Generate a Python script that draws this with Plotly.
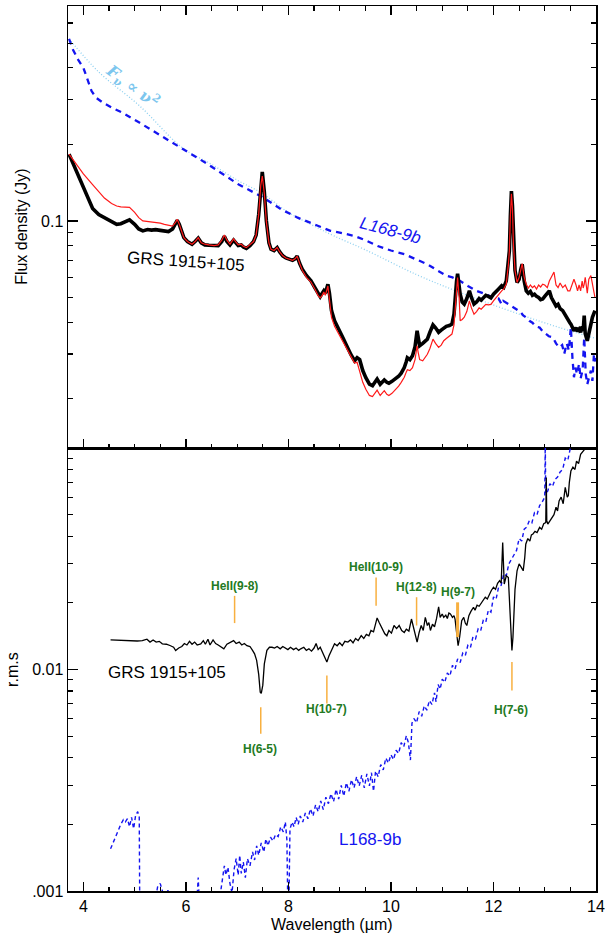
import numpy as np
import plotly.graph_objects as go

# ---------------- data ----------------
# Upper panel: GRS 1915+105 flux (black thick) and second epoch (red thin), common grid
wl_grs = [3.72, 3.85, 4.00, 4.18, 4.30, 4.41, 4.55, 4.65, 4.73, 4.82, 4.90, 5.00, 5.08, 5.16, 5.25, 5.33,
          5.41, 5.50, 5.58, 5.66, 5.74, 5.80, 5.83, 5.87, 5.92, 5.96, 6.03, 6.12, 6.18, 6.24, 6.30, 6.37,
          6.45, 6.55, 6.63, 6.70, 6.75, 6.80, 6.86, 6.93, 6.97, 7.02, 7.08, 7.12, 7.18, 7.25, 7.32, 7.37,
          7.42, 7.46, 7.49, 7.53, 7.57, 7.62, 7.66, 7.72, 7.78, 7.83, 7.89, 7.95, 8.02, 8.08, 8.13, 8.17,
          8.22, 8.27, 8.35, 8.44, 8.52, 8.58, 8.62, 8.66, 8.69, 8.72, 8.77, 8.80, 8.84, 8.90, 8.97, 9.02,
          9.07, 9.12, 9.16, 9.22, 9.29, 9.34, 9.39, 9.45, 9.51, 9.58, 9.64, 9.69, 9.73, 9.79, 9.83, 9.87,
          9.92, 9.96, 10.02, 10.09, 10.15, 10.20, 10.26, 10.30, 10.32, 10.37, 10.42, 10.47, 10.51, 10.53,
          10.56, 10.62, 10.67, 10.71, 10.76, 10.82, 10.87, 10.93, 10.98, 11.03, 11.08, 11.14, 11.19, 11.23,
          11.25, 11.28, 11.30, 11.33, 11.35, 11.39, 11.43, 11.48, 11.53, 11.57, 11.62, 11.67, 11.72, 11.76,
          11.80, 11.85, 11.90, 11.95, 12.00, 12.05, 12.10, 12.16, 12.20, 12.25, 12.29, 12.31, 12.33, 12.35,
          12.37, 12.39, 12.42, 12.46, 12.50, 12.53, 12.56, 12.60, 12.64, 12.68, 12.72, 12.76, 12.80, 12.84,
          12.88, 12.92, 12.96, 13.00, 13.05, 13.09, 13.13, 13.18, 13.22, 13.26, 13.30, 13.35, 13.40, 13.45,
          13.49, 13.51, 13.55, 13.57, 13.61, 13.64, 13.67, 13.70, 13.73, 13.75, 13.77, 13.79, 13.83, 13.86,
          13.90, 13.93, 13.98]

flux_grs_1 = [0.183, 0.160, 0.137, 0.112, 0.106, 0.103, 0.099, 0.097, 0.0975, 0.099, 0.101, 0.097, 0.093,
              0.0914, 0.0925, 0.0920, 0.0924, 0.0918, 0.0915, 0.0908, 0.093, 0.099, 0.1006, 0.097, 0.090,
              0.086, 0.083, 0.081, 0.083, 0.0855, 0.082, 0.0805, 0.0802, 0.0798, 0.080, 0.083, 0.087, 0.083,
              0.0805, 0.084, 0.082, 0.080, 0.0805, 0.079, 0.078, 0.080, 0.083, 0.088, 0.106, 0.140, 0.156,
              0.130, 0.100, 0.082, 0.0774, 0.0765, 0.0786, 0.0755, 0.0729, 0.0715, 0.0708, 0.0700, 0.071,
              0.0727, 0.068, 0.0646, 0.061, 0.0581, 0.0545, 0.0515, 0.0504, 0.052, 0.0531, 0.052, 0.0564,
              0.052, 0.0444, 0.0405, 0.0381, 0.0362, 0.0345, 0.0328, 0.0313, 0.0298, 0.0282, 0.0290, 0.0285,
              0.0258, 0.0242, 0.0228, 0.0225, 0.0232, 0.0239, 0.0228, 0.0233, 0.0237, 0.0232, 0.0230, 0.0234,
              0.0239, 0.0245, 0.0252, 0.0265, 0.0280, 0.0290, 0.0285, 0.0295, 0.0320, 0.0370, 0.0350, 0.0323,
              0.0330, 0.0338, 0.0343, 0.0365, 0.0390, 0.0380, 0.0365, 0.0372, 0.0380, 0.0385, 0.0388, 0.0393,
              0.0430, 0.0500, 0.0580, 0.0620, 0.0560, 0.0515, 0.0480, 0.0471, 0.0495, 0.0531, 0.0500, 0.0471,
              0.0480, 0.0495, 0.0488, 0.0500, 0.0510, 0.0505, 0.0498, 0.0515, 0.0525, 0.0540, 0.0556, 0.0548,
              0.0581, 0.0680, 0.0762, 0.1050, 0.1310, 0.1150, 0.0810, 0.0640, 0.0573, 0.0590, 0.0640, 0.0676,
              0.0580, 0.0531, 0.0520, 0.0528, 0.0510, 0.0515, 0.0505, 0.0500, 0.0490, 0.0493, 0.0505, 0.0520,
              0.0531, 0.0500, 0.0475, 0.0463, 0.0470, 0.0452, 0.0444, 0.0425, 0.0410, 0.0398, 0.0393, 0.0372,
              0.0370, 0.0380, 0.0368, 0.0375, 0.0365, 0.0385, 0.0370, 0.0424, 0.0360, 0.0338, 0.0365, 0.0400,
              0.0418, 0.0444]

flux_grs_2 = [0.183, 0.168, 0.153, 0.139, 0.130, 0.123, 0.117, 0.1145, 0.1135, 0.113, 0.113, 0.108, 0.103,
              0.100, 0.0995, 0.099, 0.099, 0.098, 0.097, 0.096, 0.0955, 0.099, 0.1015, 0.097, 0.090,
              0.086, 0.083, 0.081, 0.083, 0.0860, 0.082, 0.0810, 0.0805, 0.0800, 0.0805, 0.084, 0.088, 0.084,
              0.0810, 0.085, 0.083, 0.0805, 0.081, 0.0795, 0.0785, 0.0805, 0.083, 0.088, 0.106, 0.138, 0.150,
              0.128, 0.099, 0.082, 0.0774, 0.0765, 0.0786, 0.0755, 0.0729, 0.0715, 0.0708, 0.0700, 0.071,
              0.0727, 0.068, 0.0640, 0.060, 0.0575, 0.0538, 0.0508, 0.0498, 0.051, 0.0525, 0.051, 0.0555,
              0.050, 0.0418, 0.0385, 0.0362, 0.0348, 0.0333, 0.0320, 0.0309, 0.0290, 0.0276, 0.0278, 0.0258,
              0.0232, 0.0218, 0.0206, 0.0204, 0.0212, 0.0216, 0.0206, 0.0211, 0.0215, 0.0208, 0.0206, 0.0210,
              0.0217, 0.0224, 0.0232, 0.0243, 0.0255, 0.0260, 0.0258, 0.0265, 0.0285, 0.0323, 0.0305, 0.0285,
              0.0282, 0.0292, 0.0299, 0.0315, 0.0343, 0.0330, 0.0318, 0.0325, 0.0338, 0.0345, 0.0352, 0.0359,
              0.0390, 0.0444, 0.0540, 0.0599, 0.0500, 0.0405, 0.0410, 0.0418, 0.0440, 0.0485, 0.0455, 0.0430,
              0.0440, 0.0455, 0.0450, 0.0457, 0.0470, 0.0468, 0.0470, 0.0485, 0.0500, 0.0515, 0.0531, 0.0540,
              0.0565, 0.0670, 0.0762, 0.1050, 0.1280, 0.1120, 0.0800, 0.0640, 0.0573, 0.0600, 0.0650, 0.0680,
              0.0600, 0.0564, 0.0545, 0.0560, 0.0547, 0.0555, 0.0540, 0.0560, 0.0550, 0.0564, 0.0560, 0.0547,
              0.0580, 0.0600, 0.0630, 0.0560, 0.0547, 0.0570, 0.0547, 0.0560, 0.0531, 0.0531, 0.0545, 0.0570,
              0.0590, 0.0560, 0.0531, 0.0560, 0.0531, 0.0580, 0.0545, 0.0564, 0.0600, 0.0520, 0.0590, 0.0610,
              0.0560, 0.0500]

# Upper panel: L168-9b flux (blue dashed)
wl_l168 = [3.72, 3.80, 3.90, 4.00, 4.08, 4.16, 4.25, 4.39, 4.55, 4.77, 5.10, 5.42, 5.87, 6.39, 7.03, 7.50,
           7.86, 8.18, 8.50, 8.82, 9.00, 9.29, 9.50, 9.74, 10.00, 10.26, 10.50, 10.71, 10.90, 11.09,
           11.20, 11.35, 11.50, 11.67, 11.85, 12.00, 12.10, 12.16, 12.19, 12.24, 12.30, 12.38, 12.45, 12.52,
           12.58, 12.64, 12.70, 12.76, 12.82, 12.90, 12.96, 13.02, 13.08, 13.16, 13.22, 13.28, 13.34, 13.38,
           13.43, 13.47, 13.51, 13.54, 13.57, 13.60, 13.63, 13.67, 13.70, 13.74, 13.77, 13.80, 13.83, 13.87,
           13.90, 13.93, 13.96, 13.99]
flux_l168 = [0.52, 0.47, 0.43, 0.40, 0.36, 0.324, 0.305, 0.291, 0.279, 0.266, 0.243, 0.222, 0.197, 0.169,
             0.139, 0.124, 0.111, 0.103, 0.097, 0.0914, 0.0900, 0.0873, 0.0840, 0.0797, 0.0765, 0.0740,
             0.0705, 0.0676, 0.0640, 0.0608, 0.0600, 0.0580, 0.0555, 0.0531, 0.0515, 0.0500, 0.0495, 0.0470,
             0.0485, 0.0478, 0.0468, 0.0457, 0.0450, 0.0440, 0.0425, 0.0417, 0.0405, 0.0398, 0.0385, 0.0381,
             0.0368, 0.0360, 0.0352, 0.0348, 0.0330, 0.0318, 0.0325, 0.0300, 0.0330, 0.0310, 0.0381, 0.0290,
             0.0243, 0.0265, 0.0250, 0.0274, 0.0240, 0.0260, 0.0348, 0.0250, 0.0228, 0.0245, 0.0258, 0.0235,
             0.0299, 0.0280]

wl_pow = [3.72, 4.30, 5.10, 5.93, 6.50, 7.03, 7.47, 8.00, 8.50, 8.89, 9.50, 10.50, 11.35, 12.50, 13.30, 14.00]
flux_pow = [0.52, 0.385, 0.283, 0.194, 0.167, 0.1436, 0.129, 0.108, 0.0955, 0.0873, 0.077, 0.0615, 0.0523,
            0.0430, 0.0380, 0.0345]

# Lower panel: r.m.s of GRS 1915+105 (black)
wl_rms_grs = [4.53, 4.65, 4.80, 4.94, 5.05, 5.15, 5.24, 5.30, 5.36, 5.42, 5.48, 5.54, 5.62, 5.70, 5.76, 5.80,
              5.86, 5.92, 5.97, 6.02, 6.07, 6.12, 6.17, 6.22, 6.29, 6.34, 6.38, 6.43, 6.47, 6.53, 6.58, 6.63,
              6.68, 6.74, 6.80, 6.86, 6.93, 6.98, 7.04, 7.09, 7.14, 7.19, 7.25, 7.30, 7.34, 7.38, 7.42, 7.45,
              7.47, 7.50, 7.53, 7.58, 7.63, 7.68, 7.73, 7.78, 7.84, 7.89, 7.94, 7.99, 8.04, 8.10, 8.15, 8.20,
              8.24, 8.30, 8.35, 8.40, 8.45, 8.50, 8.54, 8.58, 8.62, 8.66, 8.71, 8.75, 8.79, 8.84, 8.90, 8.95,
              9.00, 9.05, 9.10, 9.16, 9.21, 9.26, 9.31, 9.36, 9.42, 9.47, 9.52, 9.57, 9.61, 9.66, 9.70, 9.73,
              9.77, 9.80, 9.85, 9.88, 9.92, 9.96, 10.01, 10.06, 10.11, 10.16, 10.21, 10.26, 10.30, 10.35,
              10.40, 10.44, 10.48, 10.51, 10.55, 10.59, 10.63, 10.67, 10.71, 10.74, 10.77, 10.81, 10.85,
              10.89, 10.93, 10.96, 11.00, 11.03, 11.07, 11.10, 11.13, 11.16, 11.20, 11.23, 11.25, 11.28,
              11.31, 11.34, 11.38, 11.42, 11.45, 11.48, 11.52, 11.56, 11.61, 11.64, 11.68, 11.72, 11.76,
              11.80, 11.84, 11.88, 11.92, 11.96, 12.00, 12.04, 12.08, 12.12, 12.15, 12.18, 12.21, 12.25,
              12.29, 12.31, 12.34, 12.36, 12.38, 12.39, 12.42, 12.46, 12.50, 12.54, 12.58, 12.61, 12.63,
              12.67, 12.71, 12.74, 12.77, 12.81, 12.85, 12.90, 12.94, 12.98, 13.02, 13.03, 13.04, 13.06,
              13.10, 13.14, 13.18, 13.22, 13.25, 13.28, 13.32, 13.36, 13.40, 13.44, 13.46, 13.48, 13.51,
              13.55, 13.59, 13.62, 13.66, 13.70, 13.74, 13.77, 13.80, 13.85]
rms_grs = [0.0136, 0.01355, 0.01345, 0.01341, 0.01345, 0.0135, 0.0137, 0.0133, 0.0136, 0.0133, 0.0134,
           0.01306, 0.0130, 0.0128, 0.0126, 0.01218, 0.0125, 0.0127, 0.0131, 0.0129, 0.0134, 0.0130, 0.0133,
           0.0129, 0.01306, 0.0135, 0.0130, 0.0137, 0.0129, 0.0136, 0.0131, 0.0129, 0.0127, 0.0124, 0.0130,
           0.0132, 0.01351, 0.0131, 0.0133, 0.0129, 0.0131, 0.0128, 0.0127, 0.0122, 0.01177, 0.0110, 0.0095,
           0.0079, 0.0078, 0.0085, 0.0106, 0.0122, 0.0126, 0.0126, 0.0125, 0.0127, 0.0124, 0.0127, 0.0125,
           0.0123, 0.0126, 0.0123, 0.0125, 0.0122, 0.0124, 0.0126, 0.0122, 0.0124, 0.0121, 0.0125, 0.0131,
           0.0123, 0.0126, 0.0120, 0.0114, 0.0108, 0.0115, 0.0122, 0.01306, 0.0128, 0.0132, 0.0128, 0.0134,
           0.0133, 0.0136, 0.0132, 0.0138, 0.0135, 0.01423, 0.0138, 0.0144, 0.0142, 0.0150, 0.0148, 0.0162,
           0.0171, 0.0163, 0.0158, 0.0150, 0.0145, 0.0142, 0.0150, 0.0146, 0.0158, 0.0153, 0.0158, 0.0150,
           0.0147, 0.0152, 0.0149, 0.0169, 0.0155, 0.0140, 0.0133, 0.0147, 0.0158, 0.0150, 0.0172, 0.0158,
           0.0163, 0.0150, 0.0160, 0.0156, 0.0170, 0.0192, 0.0172, 0.0178, 0.0172, 0.0176, 0.0170, 0.0180,
           0.0178, 0.0172, 0.0175, 0.0169, 0.0150, 0.0128, 0.0140, 0.0166, 0.0172, 0.0162, 0.0158, 0.0175,
           0.0183, 0.0191, 0.0185, 0.0195, 0.0193, 0.0200, 0.0205, 0.0212, 0.0208, 0.0220, 0.0228, 0.0235,
           0.0230, 0.0245, 0.0252, 0.0245, 0.0374, 0.0243, 0.0265, 0.0260, 0.0215, 0.0150, 0.0122, 0.0140,
           0.0166, 0.0230, 0.0279, 0.0300, 0.0290, 0.0279, 0.0320, 0.0368, 0.0390, 0.0380, 0.0405, 0.0409,
           0.0420, 0.0415, 0.0438, 0.0430, 0.0455, 0.0460, 0.0735, 0.0470, 0.0453, 0.0470, 0.0485, 0.0500,
           0.0540, 0.0520, 0.0577, 0.0600, 0.0560, 0.0664, 0.0600, 0.0610, 0.0700, 0.0787, 0.0820, 0.0800,
           0.0873, 0.0850, 0.0937, 0.0960, 0.0985, 0.1000, 0.1050]

# Lower panel: r.m.s of L168-9b (blue dashed)
wl_rms_l168 = [4.53, 4.60, 4.67, 4.73, 4.78, 4.82, 4.86, 4.90, 4.94, 4.98, 5.02, 5.06, 5.09, 5.10, 5.20,
               5.40, 5.45, 5.50, 5.55, 5.60, 5.65, 5.70, 5.90, 6.20, 6.24, 6.26, 6.30, 6.40, 6.50, 6.60,
               6.68, 6.72, 6.75, 6.78, 6.82, 6.86, 6.90, 6.94, 6.98, 7.02, 7.05, 7.08, 7.12, 7.16, 7.20,
               7.25, 7.30, 7.34, 7.38, 7.42, 7.47, 7.52, 7.56, 7.60, 7.65, 7.70, 7.75, 7.80, 7.85, 7.90,
               7.94, 7.97, 7.99, 8.01, 8.03, 8.07, 8.11, 8.15, 8.19, 8.23, 8.28, 8.33, 8.38, 8.43, 8.48,
               8.53, 8.58, 8.63, 8.68, 8.73, 8.78, 8.83, 8.88, 8.93, 8.98, 9.03, 9.08, 9.13, 9.18, 9.23,
               9.28, 9.33, 9.38, 9.43, 9.48, 9.53, 9.58, 9.62, 9.66, 9.70, 9.75, 9.80, 9.85, 9.90, 9.95,
               10.00, 10.05, 10.10, 10.15, 10.20, 10.25, 10.30, 10.34, 10.38, 10.41, 10.45, 10.50, 10.55,
               10.60, 10.65, 10.70, 10.75, 10.80, 10.85, 10.88, 10.92, 10.96, 11.00, 11.05, 11.10, 11.15,
               11.20, 11.25, 11.30, 11.35, 11.40, 11.45, 11.50, 11.55, 11.60, 11.65, 11.70, 11.75, 11.80,
               11.85, 11.90, 11.95, 12.00, 12.05, 12.10, 12.15, 12.20, 12.25, 12.30, 12.35, 12.40, 12.45,
               12.50, 12.55, 12.60, 12.65, 12.70, 12.75, 12.80, 12.85, 12.90, 12.95, 13.00, 13.01, 13.02,
               13.06, 13.10, 13.15, 13.20, 13.25, 13.30, 13.35, 13.40, 13.45, 13.50, 13.55]
rms_l168 = [0.00155, 0.00170, 0.00185, 0.00200, 0.00210, 0.00205, 0.00212, 0.00195, 0.00215, 0.00191,
            0.00220, 0.00228, 0.00215, 0.0008, 0.0005, 0.0009, 0.00105, 0.00108, 0.00100, 0.0009, 0.00101,
            0.0008, 0.0006, 0.0008, 0.00115, 0.0009, 0.0008, 0.0009, 0.00095, 0.0009, 0.00100, 0.00115,
            0.00130, 0.00118, 0.00128, 0.00108, 0.00098, 0.00125, 0.00140, 0.00118, 0.00145, 0.00120,
            0.00135, 0.00115, 0.00140, 0.00130, 0.00150, 0.00138, 0.00160, 0.00145, 0.00165, 0.00150,
            0.00172, 0.00160, 0.00175, 0.00168, 0.00180, 0.00176, 0.00195, 0.00185, 0.00205, 0.00170,
            0.0008, 0.0009, 0.00190, 0.00205, 0.00195, 0.00215, 0.00200, 0.00218, 0.00205, 0.00225, 0.00212,
            0.00235, 0.00218, 0.00245, 0.00228, 0.00255, 0.00233, 0.00265, 0.00248, 0.00275, 0.00253,
            0.00288, 0.00260, 0.00300, 0.00268, 0.00308, 0.00282, 0.00318, 0.00292, 0.00328, 0.00298,
            0.00333, 0.00292, 0.00338, 0.00298, 0.00342, 0.00282, 0.00348, 0.00328, 0.00372, 0.00352,
            0.00398, 0.00378, 0.00412, 0.00392, 0.00432, 0.00418, 0.00468, 0.00448, 0.00502, 0.00468,
            0.00390, 0.00572, 0.00600, 0.00575, 0.00645, 0.00615, 0.00685, 0.00655, 0.00725, 0.00695,
            0.00785, 0.00715, 0.00855, 0.00815, 0.00905, 0.00875, 0.00965, 0.00935, 0.01045, 0.01005,
            0.01115, 0.01075, 0.01185, 0.01155, 0.01285, 0.01255, 0.01405, 0.01375, 0.01525, 0.01495,
            0.01665, 0.01635, 0.01855, 0.01815, 0.02125, 0.02075, 0.02355, 0.02400, 0.02700, 0.02650,
            0.03000, 0.03150, 0.03300, 0.03450, 0.03900, 0.03800, 0.04300, 0.04400, 0.04700, 0.04600,
            0.05100, 0.05000, 0.05500, 0.05700, 0.06000, 0.10500, 0.06200, 0.06400, 0.06900, 0.06700,
            0.07200, 0.07400, 0.07800, 0.08000, 0.09000, 0.08800, 0.10000, 0.11000]

# Line identifications (lower panel): wavelength, marker bottom/top (r.m.s units), label, label y
line_names = ["HeII(9-8)", "H(6-5)", "H(10-7)", "HeII(10-9)", "H(12-8)", "H(9-7)", "H(7-6)"]
line_wl = [6.95, 7.46, 8.75, 9.71, 10.50, 11.30, 12.36]
line_lo = [0.0162, 0.00513, 0.00703, 0.0194, 0.0158, 0.0140, 0.00804]
line_hi = [0.0215, 0.00676, 0.0094, 0.0260, 0.0212, 0.0201, 0.0108]
line_label_x = [6.94, 7.45, 8.75, 9.71, 10.50, 11.30, 12.35]
line_label_y = [0.0239, 0.00436, 0.0066, 0.0289, 0.0235, 0.0224, 0.00654]
line_width = [1.5, 1.5, 1.5, 1.5, 1.5, 3.0, 1.5]

x_ticks = [4, 6, 8, 10, 12, 14]

# ---------------- figure ----------------
BLACK = "#000000"
RED = "#ff1a1a"
BLUE = "#1414f0"
SKY = "#8fd0f0"
SKY_TEXT = "#7cc6ee"
ORANGE = "#f8b040"
GREEN = "#237a23"
FONT = "Liberation Sans, Arial, sans-serif"

fig = go.Figure()

# upper panel
fig.add_trace(go.Scatter(x=wl_pow, y=flux_pow, mode="lines", xaxis="x", yaxis="y",
                         line=dict(color=SKY, width=1.3, dash="1px,2px", shape="spline")))
fig.add_trace(go.Scatter(x=wl_l168, y=flux_l168, mode="lines", xaxis="x", yaxis="y",
                         line=dict(color=BLUE, width=2.3, dash="6px,5px")))
fig.add_trace(go.Scatter(x=wl_grs, y=flux_grs_1, mode="lines", xaxis="x", yaxis="y",
                         line=dict(color=BLACK, width=3.6)))
fig.add_trace(go.Scatter(x=wl_grs, y=flux_grs_2, mode="lines", xaxis="x", yaxis="y",
                         line=dict(color=RED, width=1.2)))

# lower panel
fig.add_trace(go.Scatter(x=wl_rms_l168, y=rms_l168, mode="lines", xaxis="x2", yaxis="y2",
                         line=dict(color=BLUE, width=1.4, dash="4px,3px")))
fig.add_trace(go.Scatter(x=wl_rms_grs, y=rms_grs, mode="lines", xaxis="x2", yaxis="y2",
                         line=dict(color=BLACK, width=1.3)))
for w, lo, hi, lw in zip(line_wl, line_lo, line_hi, line_width):
    fig.add_trace(go.Scatter(x=[w, w], y=[lo, hi], mode="lines", xaxis="x2", yaxis="y2",
                             line=dict(color=ORANGE, width=lw)))

annotations = []
for name, lx, ly in zip(line_names, line_label_x, line_label_y):
    annotations.append(dict(x=lx, y=np.log10(ly), xref="x2", yref="y2", text=name, showarrow=False,
                            font=dict(family=FONT, size=12, color=GREEN, weight="bold"),
                            xanchor="center", yanchor="middle"))

annotations += [
    dict(x=6.0, y=np.log10(0.069), xref="x", yref="y", text="GRS 1915+105", showarrow=False,
         textangle=4, font=dict(family=FONT, size=17, color=BLACK)),
    dict(x=9.99, y=np.log10(0.0913), xref="x", yref="y", text="<i>L168-9b</i>", showarrow=False,
         textangle=15, font=dict(family=FONT, size=17, color=BLUE)),
    dict(x=4.95, y=np.log10(0.339), xref="x", yref="y",
         text="<b><i>F</i><sub>ν</sub> ∝ ν<sup>2</sup></b>", showarrow=False,
         textangle=37, font=dict(family="DejaVu Serif", size=16, color=SKY_TEXT)),
    dict(x=5.64, y=np.log10(0.00969), xref="x2", yref="y2", text="GRS 1915+105", showarrow=False,
         font=dict(family=FONT, size=17, color=BLACK)),
    dict(x=9.59, y=np.log10(0.0017), xref="x2", yref="y2", text="L168-9b", showarrow=False,
         font=dict(family=FONT, size=17, color=BLUE)),
    # axis titles
    dict(x=(21 - 68) / 532, y=(891 - 225) / 887, xref="paper", yref="paper", text="Flux density (Jy)",
         textangle=-90, showarrow=False, font=dict(family=FONT, size=16, color=BLACK),
         xanchor="center", yanchor="middle"),
    dict(x=(12 - 68) / 532, y=(891 - 669) / 887, xref="paper", yref="paper", text="r.m.s",
         textangle=-90, showarrow=False, font=dict(family=FONT, size=16, color=BLACK),
         xanchor="center", yanchor="middle"),
    dict(x=0.5, y=-(925 - 891) / 887, xref="paper", yref="paper", text="Wavelength (µm)",
         showarrow=False, font=dict(family=FONT, size=16, color=BLACK),
         xanchor="center", yanchor="middle"),
]

upper_minor = [v * 0.01 for v in range(2, 10)] + [v * 0.1 for v in range(2, 8)]
lower_minor = [v * 0.001 for v in range(2, 10)] + [v * 0.01 for v in range(2, 10)]

split = 1 - 443 / 887

common_x = dict(range=[3.7, 14], tickmode="array", tickvals=x_ticks, ticks="inside", ticklen=9,
                tickwidth=1.3, tickcolor=BLACK, showline=True, linecolor=BLACK, linewidth=1.5,
                showgrid=False, zeroline=False,
                minor=dict(dtick=0.5, tick0=0, ticks="inside", ticklen=4.5, tickwidth=1.2, tickcolor=BLACK),
                tickfont=dict(family=FONT, size=16, color=BLACK))
common_y = dict(type="log", ticks="inside", ticklen=10, tickwidth=1.3, tickcolor=BLACK, showline=True,
                linecolor=BLACK, linewidth=1.5, showgrid=False, zeroline=False, mirror="allticks",
                tickfont=dict(family=FONT, size=16, color=BLACK))

fig.update_layout(
    width=609, height=941,
    margin=dict(l=68, r=9, t=4, b=50),
    paper_bgcolor="white", plot_bgcolor="white",
    showlegend=False,
    xaxis=dict(common_x, anchor="y", domain=[0, 1], showticklabels=False, mirror="allticks"),
    yaxis=dict(common_y, anchor="x", domain=[split, 1],
               range=[np.log10(0.0128), np.log10(0.7)], tickmode="array",
               tickvals=[0.1], ticktext=["0.1"],
               minor=dict(tickmode="array", tickvals=upper_minor, ticks="inside", ticklen=5,
                          tickwidth=1.2, tickcolor=BLACK)),
    xaxis2=dict(common_x, anchor="y2", domain=[0, 1], showticklabels=True, mirror=True),
    yaxis2=dict(common_y, anchor="x2", domain=[0, split],
                range=[-3, -1], tickmode="array", tickvals=[0.001, 0.01, 0.1],
                ticktext=[".001", "0.01", ""],
                minor=dict(tickmode="array", tickvals=lower_minor, ticks="inside", ticklen=5,
                           tickwidth=1.2, tickcolor=BLACK)),
    annotations=annotations,
)

fig.write_html("out.html",
               config={"displayModeBar": False, "staticPlot": True},
               post_script="document.body.style.margin='0px';document.body.style.padding='0px';"
                           "document.documentElement.style.overflow='hidden';")
